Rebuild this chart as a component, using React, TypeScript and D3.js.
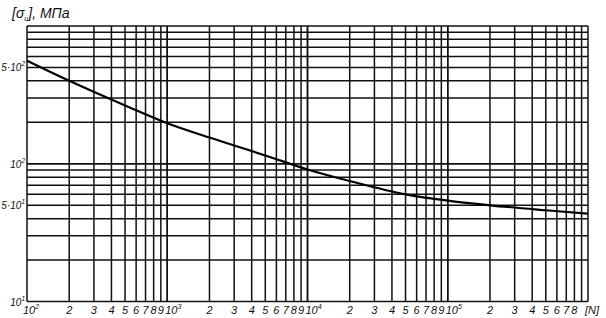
import React from "react";
import * as d3 from "d3";

const curveN = [100, 200, 500, 1000, 2000, 5000, 10000, 20000, 50000, 100000, 200000, 500000, 1000000];
const curveS = [560, 400, 265, 197, 155, 115, 91, 75, 60, 54, 50, 46, 43.4];
const xDecades = [100, 1000, 10000, 100000];
const xMinorLabels = ["2", "3", "4", "5", "6", "7", "8", "9"];
const lastDecadeLabels = ["2", "3", "4", "5", "6", "7", "8"];
const yTickValues = [10, 50, 100, 500];
const yTickLabels = [["10", "1"], ["5·10", "1"], ["10", "2"], ["5·10", "2"]];

const W = 606, H = 318;
const x = d3.scaleLog().domain([1e2, 1e6]).range([27, 588]);
const y = d3.scaleLog().domain([10, 1000]).range([301.6, 26]);

export default function App() {
  const vLines: number[] = [];
  xDecades.forEach(d => { for (let k = 1; k <= 10; k++) vLines.push(d * k); });
  const hLines: number[] = [];
  [10, 100].forEach(d => { for (let k = 1; k <= 10; k++) hLines.push(d * k); });
  const pts = curveN.map((n, i) => [n, curveS[i]] as [number, number]);
  const line = d3.line<[number, number]>().x(d => x(d[0])).y(d => y(d[1])).curve(d3.curveMonotoneX);
  const font = "'Liberation Sans', Arial, sans-serif";
  const labs: { v: number; t: string; sup?: string; anchor: string; dx: number }[] = [];
  xDecades.forEach((d, di) => {
    labs.push({ v: d, t: "10", sup: String(2 + di), anchor: di === 0 ? "middle" : "start", dx: di === 0 ? 4 : -2 });
    const mins = di === 3 ? lastDecadeLabels : xMinorLabels;
    mins.forEach((m, mi) => labs.push({ v: d * (mi + 2), t: m, anchor: "middle", dx: 0 }));
  });
  return (
    <svg width={W} height={H} style={{ position: "absolute", left: 0, top: 0, background: "#fff" }}>
      <rect width={W} height={H} fill="#fff" />
      <g stroke="#111" strokeWidth={1.5}>
        {vLines.map((v, i) => (
          <line key={"v" + i} x1={x(v)} x2={x(v)} y1={y(1000)} y2={y(10)} />
        ))}
        {hLines.map((v, i) => (
          <line key={"h" + i} x1={x(1e2)} x2={x(1e6)} y1={y(v)} y2={y(v)} />
        ))}
      </g>
      <path d={line(pts) || ""} fill="none" stroke="#000" strokeWidth={2.2} />
      <g fontFamily={font} fontStyle="italic" fontSize={11} fill="#111">
        {labs.map((l, i) => (
          <text key={"x" + i} x={x(l.v) + l.dx} y={314} textAnchor={l.anchor}>
            {l.t}
            {l.sup && <tspan fontSize={7} dy={-5}>{l.sup}</tspan>}
          </text>
        ))}
        <text x={585} y={314}>[N]</text>
        {yTickValues.map((v, i) => (
          <text key={"y" + i} x={25} y={y(v) + 4} textAnchor="end" fontSize={10}>
            {yTickLabels[i][0]}
            <tspan fontSize={6.5} dy={-5}>{yTickLabels[i][1]}</tspan>
          </text>
        ))}
        <text x={12} y={18} fontSize={14}>
          [σ<tspan fontSize={7} dy={3}>и</tspan><tspan dy={-3}>], МПа</tspan>
        </text>
      </g>
    </svg>
  );
}
